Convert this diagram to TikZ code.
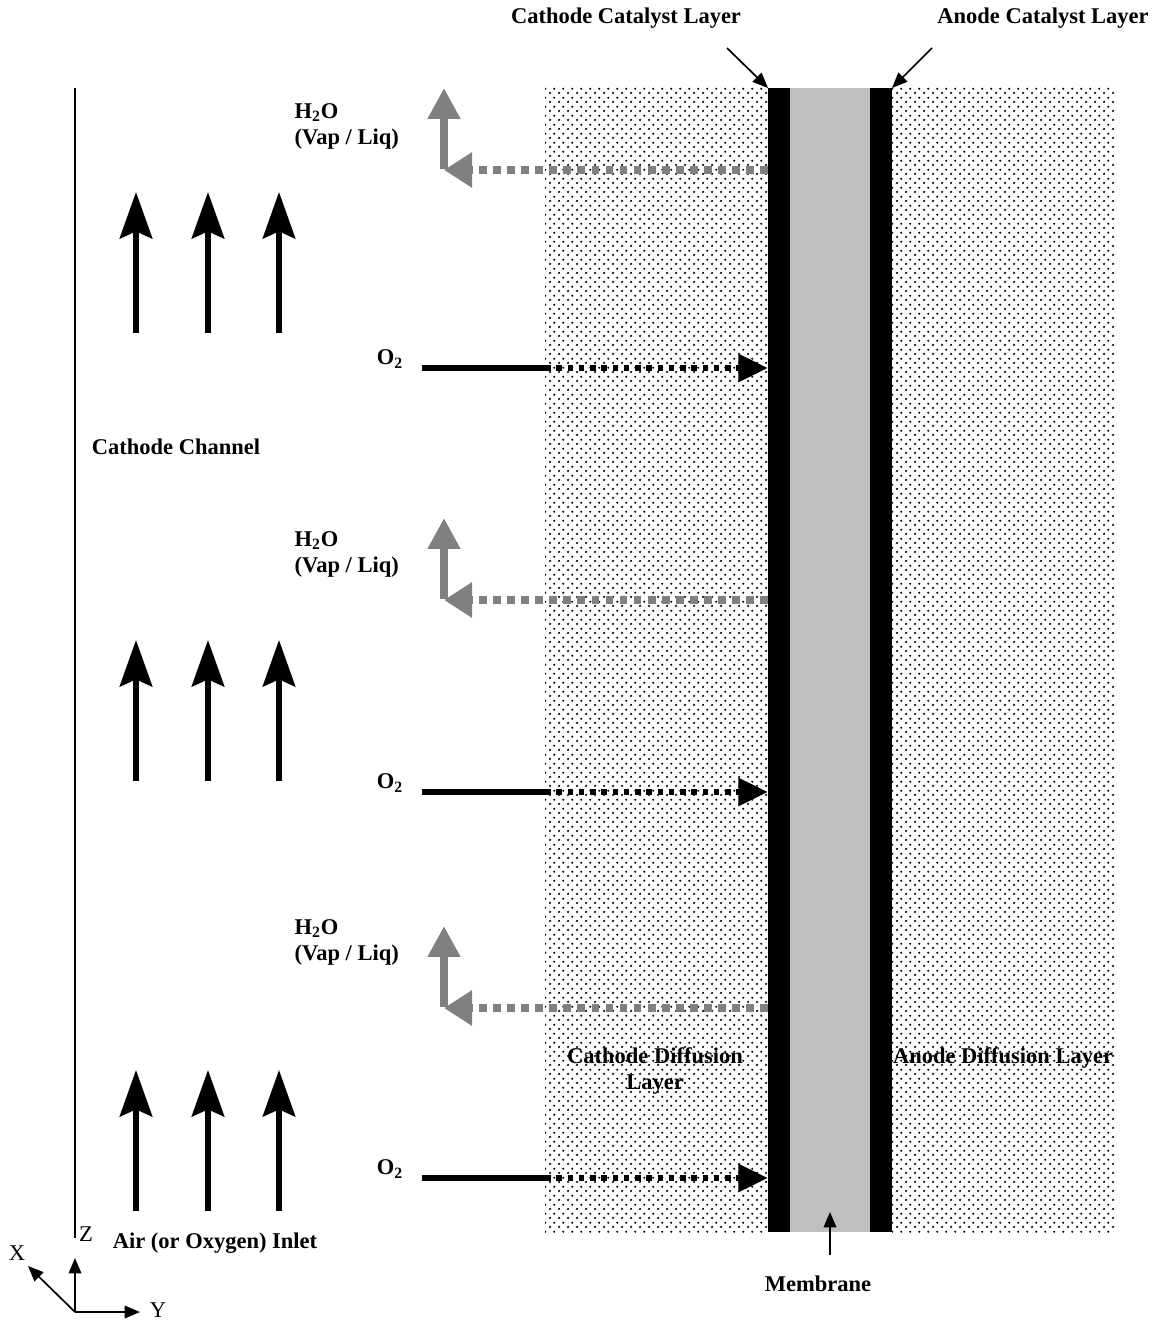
\documentclass[tikz,border=0pt]{standalone}
\usepackage{fontspec}
\setmainfont{Liberation Serif}
\usetikzlibrary{arrows.meta,patterns.meta}
\definecolor{membranegray}{rgb}{0.75, 0.75, 0.75}
\definecolor{watergray}{rgb}{0.5, 0.5, 0.5}

\tikzdeclarepattern{
  name=layerdots, type=uncolored,
  bounding box={(0pt,0pt) and (6.5pt,6.5pt)}, tile size={(6.5pt,6.5pt)},
  code={\fill (1.6pt,1.6pt) circle (0.95pt); \fill (4.85pt,4.85pt) circle (0.95pt);}
}

\tikzset{
  lbl/.style={font=\bfseries\fontsize{16}{18.5}\selectfont, align=center, inner sep=1pt},
  axislbl/.style={font=\fontsize{16}{18.5}\selectfont, inner sep=1pt},
  flow/.style={line width=4.2pt, -{Stealth[length=33pt,width=23pt,inset=5pt]}},
  oxygen/.style={line width=4.5pt, dash pattern=on 4pt off 4pt, -{Triangle[length=21pt,width=19pt]}},
  water/.style={watergray, line width=5pt, dash pattern=on 5.5pt off 4.5pt, -{Triangle[length=20pt,width=24pt]}},
  waterup/.style={watergray, line width=5.5pt, -{Triangle[length=22pt,width=22pt]}},
  pointer/.style={line width=1.2pt, -{Triangle[length=11pt,width=9pt]}},
  layer/.style={pattern=layerdots, pattern color=black}
}

\begin{document}
\begin{tikzpicture}[x=0.025cm, y=-0.025cm]
    \useasboundingbox (0,0) rectangle (1157,1320);

    % layers
    \fill [layer] (545,88) rectangle (768,1232);
    \fill [layer] (892,88) rectangle (1115,1232);
    \fill [black] (768,88) rectangle (790,1232);
    \fill [membranegray] (790,88) rectangle (870,1232);
    \fill [black] (870,88) rectangle (892,1232);

    \coordinate (cctop) at (768,88);
    \coordinate (actop) at (892,88);
    \coordinate (mbot) at (830,1212);

    % channel wall
    \coordinate (walltop) at (75,88);
    \coordinate (wallbot) at (75,1238);
    \draw [line width=1.2pt] (walltop) -- (wallbot);

    \foreach \x in {136,208,279}{
      \foreach \y in {192,640,1070}{
        \draw [flow] (\x,\y+141) -- (\x,\y);
      }
    }

    % oxygen in
    \foreach \y in {368,792,1178}{
      \node [lbl] (otwo\y) at (390,\y-9) {O\textsubscript{2}};
      \coordinate (ostart\y) at (422,\y);
      \coordinate (omid\y) at (545,\y);
      \coordinate (oend\y) at (768,\y);
      \draw [line width=4.5pt] (ostart\y) -- (omid\y);
      \draw [oxygen] (omid\y) -- (oend\y);
    }

    % water out
    \foreach \y/\ly in {170/126, 600/554, 1008/942}{
      \node [lbl, align=left, anchor=west] (water\y) at (293,\ly) {H\textsubscript{2}O\\(Vap / Liq)};
      \coordinate (wstart\y) at (768,\y);
      \coordinate (wcorner\y) at (444,\y);
      \coordinate (wtop\y) at (444,\y-82);
      \draw [water] (wstart\y) -- (wcorner\y);
      \draw [waterup] ([yshift=1pt]wcorner\y) -- (wtop\y);
    }

    \node [lbl] (channel) at (176,447) {Cathode Channel};
    \node [lbl] (inlet) at (215,1243) {Air (or Oxygen) Inlet};
    \node [lbl] (cdl) at (655,1071) {Cathode Diffusion\\Layer};
    \node [lbl] (adl) at (1003,1058) {Anode Diffusion Layer};

    \node [lbl] (ccl) at (626,18) {Cathode Catalyst Layer};
    \node [lbl] (acl) at (1043,18) {Anode Catalyst Layer};
    \coordinate (ccfrom) at (727,48);
    \coordinate (acfrom) at (932,48);
    \draw [pointer] (ccfrom) -- (cctop);
    \draw [pointer] (acfrom) -- (actop);

    \node [lbl] (membrane) at (818,1284) {Membrane};
    \coordinate (mfrom) at (830,1255);
    \draw [pointer] (mfrom) -- (mbot);

    % axes
    \coordinate (origin) at (75,1312);
    \coordinate (ztip) at (75,1258);
    \coordinate (ytip) at (140,1312);
    \coordinate (xtip) at (28,1266);
    \draw [pointer] (origin) -- (ztip);
    \draw [pointer] (origin) -- (ytip);
    \draw [pointer] (origin) -- (xtip);
    \node [axislbl] (zlbl) at (86,1234) {Z};
    \node [axislbl] (ylbl) at (158,1310) {Y};
    \node [axislbl] (xlbl) at (17,1253) {X};
  \end{tikzpicture}
\end{document}
